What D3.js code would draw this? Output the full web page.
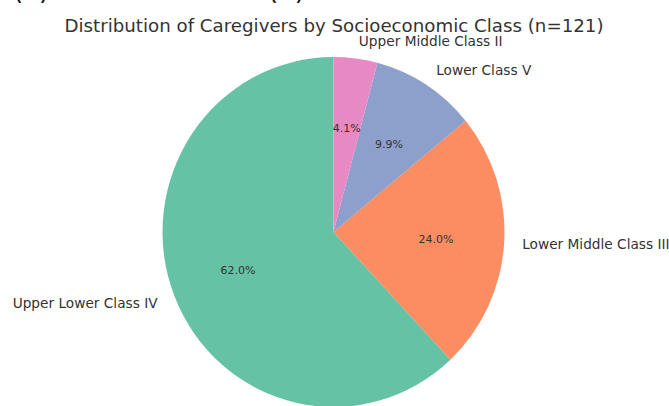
<!DOCTYPE html>
<html>
<head>
<meta charset="utf-8">
<script src="https://cdn.jsdelivr.net/npm/d3@7"></script>
<style>
html,body{margin:0;padding:0;background:#fff;}
svg{display:block;font-family:"DejaVu Sans",sans-serif;}
</style>
</head>
<body>
<svg id="chart" width="669" height="406"></svg>
<script>
const categories = ["Upper Lower Class IV", "Lower Middle Class III", "Lower Class V", "Upper Middle Class II"];
const counts = [75, 29, 12, 5];
const colors = ["#66c2a5", "#fc8d62", "#8da0cb", "#e78ac3"];
const titleText = "Distribution of Caregivers by Socioeconomic Class (n=121)";
const panelTags = ["(a)", "(b)"];

const W = 669, H = 406;
const cx = 333.5, cy = 232, RX = 171, RY = 175;
const svg = d3.select("#chart");
const total = d3.sum(counts);

// clipped panel tags at very top
svg.selectAll("text.tag").data(panelTags).enter().append("text")
  .attr("class","tag")
  .attr("x", (d,i) => i === 0 ? 13 : 268)
  .attr("y", -1)
  .attr("font-size", 26)
  .attr("fill", "#111")
  .text(d => d);

svg.append("text")
  .attr("x", 334).attr("y", 32)
  .attr("text-anchor","middle")
  .attr("font-size", 18)
  .attr("fill", "#333")
  .attr("textLength", 539).attr("lengthAdjust","spacingAndGlyphs")
  .text(titleText);

// matplotlib style: startangle 90, counterclockwise
const data = categories.map((c,i)=>({cat:c, v:counts[i], color:colors[i]}));
const pie = d3.pie().value(d=>d.v).sort(null)
  .startAngle(0).endAngle(-2*Math.PI);
const arcs = pie(data);
const arc = d3.arc().innerRadius(0).outerRadius(RX);

const gp = svg.append("g").attr("transform", `translate(${cx},${cy}) scale(1,${RY/RX})`);
gp.selectAll("path").data(arcs).enter().append("path")
  .attr("d", arc)
  .attr("fill", d=>d.data.color);

const g = svg.append("g").attr("transform", `translate(${cx},${cy})`);
function pos(d, f){
  const a = (d.startAngle + d.endAngle)/2; // d3 angle: 0 at top, clockwise positive
  return [Math.sin(a)*RX*f, -Math.cos(a)*RY*f];
}

g.selectAll("text.pct").data(arcs).enter().append("text")
  .attr("class","pct")
  .attr("x", d=>pos(d,0.6)[0])
  .attr("y", d=>pos(d,0.6)[1])
  .attr("dy","0.35em")
  .attr("text-anchor","middle")
  .attr("font-size", 11)
  .attr("fill","#333")
  .text(d => (d.data.v/total*100).toFixed(1) + "%");

g.selectAll("text.lab").data(arcs).enter().append("text")
  .attr("class","lab")
  .attr("x", d=>pos(d,1.1)[0] + (pos(d,1.1)[0] >= 0 ? 1 : -1))
  .attr("y", d=>pos(d,1.1)[1])
  .attr("dy","0.35em")
  .attr("text-anchor", d=> pos(d,1.1)[0] >= 0 ? "start" : "end")
  .attr("font-size", 13.7)
  .attr("fill","#333")
  .text(d => d.data.cat);
</script>
</body>
</html>
